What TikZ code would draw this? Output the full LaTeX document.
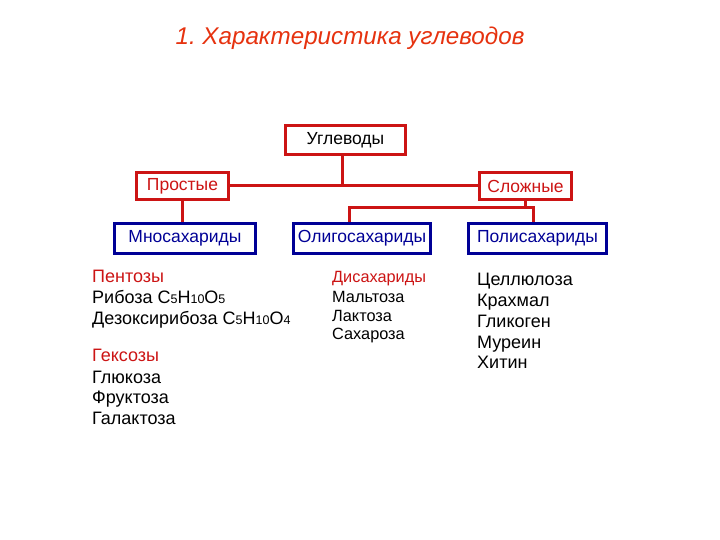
\documentclass[tikz,border=0pt]{standalone}
\usepackage{fontspec}
\setmainfont{Liberation Sans}
\frenchspacing
\definecolor{boxred}{RGB}{204,20,20}
\definecolor{boxblue}{RGB}{0,0,150}
\definecolor{titlered}{RGB}{230,50,15}
\def\colA{92}
\def\colB{332}
\def\colC{477}
\tikzset{
    box/.style={draw, line width=3pt, fill=white, inner sep=0pt, font=\fontsize{17.5}{20}\selectfont},
    redbox/.style={box, draw=boxred},
    bluebox/.style={box, draw=boxblue, text=boxblue},
    link/.style={draw=boxred, line width=3pt},
    entry/.style={anchor=base west, inner sep=0pt, font=\fontsize{18}{21}\selectfont},
    smallentry/.style={entry, font=\fontsize{16.3}{19}\selectfont},
}
\newcommand{\kbox}[6][redbox]{
    \node[#1, minimum width=#4, minimum height=#5] (#2) at (#3) {#6};
}
\newcommand{\entry}[4][entry]{
    \node[#1] (#2) at (#3) {#4};
}
\newcommand{\idx}[1]{{\fontsize{12.5}{12}\selectfont #1}}

\begin{document}
\begin{tikzpicture}[x=1pt, y=-1pt]
    \useasboundingbox[fill=white] (0,0) rectangle (720,540);
    \node[anchor=base, text=titlered, font=\fontsize{24.2}{27}\selectfont\itshape] (title) at (350,45) {1. Характеристика углеводов};
    % connectors first, boxes drawn on top
    \coordinate (trunk) at (342,184);
    \coordinate (fork) at (525,208);
    \kbox{ugl}{345.5,140}{120pt}{29pt}{Углеводы}
    \kbox[redbox, text=boxred]{prost}{182.5,186}{92pt}{27pt}{Простые}
    \kbox[redbox, text=boxred]{slozh}{525.5,186}{92pt}{27pt}{Сложные}
    \kbox[bluebox]{mono}{185,238.5}{141pt}{30pt}{Мносахариды}
    \kbox[bluebox]{oligo}{362,238.5}{137pt}{30pt}{Олигосахариды}
    \kbox[bluebox]{poly}{537.5,238.5}{138pt}{30pt}{Полисахариды}
    \draw[link] (ugl.south -| trunk) -- (trunk);
    \draw[link] (prost.east) -- (slozh.west);
    \draw[link] (prost.south) -- (prost.south |- mono.north);
    \draw[link] (slozh.south -| fork) -- (fork);
    \draw[link] ([xshift=-13pt]oligo.north) |- (fork) -| ([xshift=-4.5pt]poly.north);
    % monosaccharides
    \entry{pent}{\colA,282}{\textcolor{boxred}{Пентозы}}
    \entry{rib}{\colA,303}{Рибоза C\idx{5}H\idx{10}O\idx{5}}
    \entry{dez}{\colA,324}{Дезоксирибоза C\idx{5}H\idx{10}O\idx{4}}
    \entry{hex}{\colA,361}{\textcolor{boxred}{Гексозы}}
    \entry{glu}{\colA,383}{Глюкоза}
    \entry{fru}{\colA,403}{Фруктоза}
    \entry{gal}{\colA,424}{Галактоза}
    % oligosaccharides
    \entry[smallentry]{di}{\colB,282}{\textcolor{boxred}{Дисахариды}}
    \entry[smallentry]{mal}{\colB,302}{Мальтоза}
    \entry[smallentry]{lak}{\colB,321}{Лактоза}
    \entry[smallentry]{sah}{\colB,339}{Сахароза}
    % polysaccharides
    \entry{cel}{\colC,285}{Целлюлоза}
    \entry{kra}{\colC,306}{Крахмал}
    \entry{gli}{\colC,327}{Гликоген}
    \entry{mur}{\colC,348}{Муреин}
    \entry{hit}{\colC,368}{Хитин}
\end{tikzpicture}
\end{document}
